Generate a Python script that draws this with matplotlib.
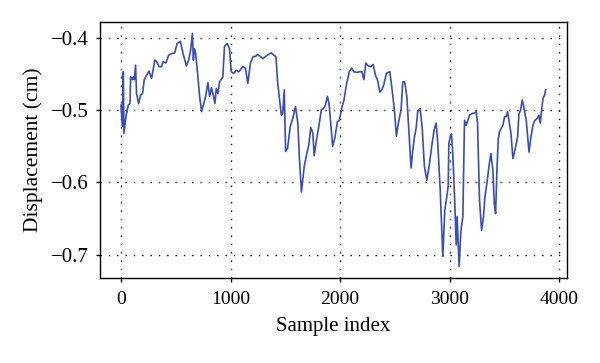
import matplotlib
matplotlib.use("Agg")
import matplotlib.pyplot as plt

sample_index = [0, 12, 21, 27, 45, 67, 82, 88, 106, 112, 121, 133, 142, 161, 179, 197, 212, 233, 255, 279,
                309, 324, 348, 370, 385, 409, 436, 461, 491, 512, 542, 567, 597, 618, 636, 652, 661, 670, 682,
                697, 718, 736, 755, 773, 794, 809, 827, 839, 858, 870, 885, 900, 930, 945, 970, 991, 1006,
                1030, 1052, 1076, 1112, 1136, 1158, 1182, 1206, 1227, 1248, 1273, 1297, 1318, 1348, 1373,
                1394, 1415, 1430, 1448, 1464, 1476, 1491, 1503, 1521, 1545, 1570, 1594, 1615, 1630, 1648,
                1673, 1697, 1715, 1733, 1752, 1764, 1782, 1806, 1830, 1848, 1867, 1885, 1900, 1915, 1933,
                1955, 1976, 1994, 2015, 2036, 2061, 2085, 2106, 2127, 2152, 2176, 2200, 2218, 2236, 2258,
                2282, 2303, 2324, 2342, 2364, 2382, 2400, 2424, 2455, 2476, 2497, 2515, 2533, 2558, 2573,
                2591, 2610, 2628, 2649, 2665, 2680, 2695, 2710, 2732, 2750, 2771, 2793, 2817, 2841, 2860,
                2878, 2893, 2915, 2939, 2957, 2976, 2988, 2994, 3006, 3018, 3030, 3046, 3061, 3070, 3079,
                3088, 3104, 3122, 3137, 3152, 3168, 3183, 3204, 3229, 3244, 3256, 3274, 3293, 3311, 3323,
                3341, 3360, 3378, 3396, 3409, 3421, 3433, 3445, 3457, 3473, 3488, 3503, 3518, 3530, 3543,
                3561, 3579, 3598, 3610, 3622, 3634, 3649, 3665, 3677, 3689, 3701, 3726, 3744, 3762, 3780,
                3799, 3817, 3829, 3841, 3854, 3869, 3878]
displacement = [-0.493, -0.523, -0.447, -0.532, -0.509, -0.493, -0.491, -0.454, -0.458, -0.454, -0.458, -0.438,
                -0.477, -0.491, -0.479, -0.477, -0.458, -0.452, -0.446, -0.456, -0.431, -0.433, -0.440,
                -0.440, -0.433, -0.435, -0.424, -0.422, -0.421, -0.408, -0.405, -0.422, -0.439, -0.431,
                -0.417, -0.394, -0.431, -0.415, -0.422, -0.445, -0.481, -0.502, -0.491, -0.481, -0.462,
                -0.481, -0.469, -0.477, -0.491, -0.470, -0.477, -0.461, -0.454, -0.412, -0.408, -0.415,
                -0.447, -0.449, -0.445, -0.447, -0.440, -0.442, -0.463, -0.435, -0.426, -0.426, -0.423,
                -0.426, -0.429, -0.426, -0.423, -0.421, -0.424, -0.426, -0.461, -0.486, -0.507, -0.505,
                -0.472, -0.557, -0.553, -0.523, -0.511, -0.495, -0.518, -0.569, -0.613, -0.578, -0.560,
                -0.548, -0.524, -0.532, -0.563, -0.544, -0.523, -0.499, -0.498, -0.493, -0.481, -0.491,
                -0.518, -0.550, -0.537, -0.516, -0.514, -0.498, -0.486, -0.463, -0.447, -0.442, -0.447,
                -0.448, -0.447, -0.447, -0.458, -0.435, -0.439, -0.440, -0.437, -0.452, -0.458, -0.475,
                -0.472, -0.465, -0.449, -0.447, -0.472, -0.500, -0.536, -0.518, -0.499, -0.461, -0.461,
                -0.481, -0.527, -0.580, -0.555, -0.537, -0.525, -0.502, -0.498, -0.523, -0.578, -0.597,
                -0.574, -0.546, -0.527, -0.518, -0.546, -0.610, -0.702, -0.638, -0.619, -0.605, -0.546,
                -0.537, -0.533, -0.560, -0.619, -0.686, -0.647, -0.684, -0.716, -0.667, -0.647, -0.514,
                -0.521, -0.514, -0.507, -0.505, -0.504, -0.502, -0.518, -0.624, -0.666, -0.647, -0.620,
                -0.602, -0.578, -0.560, -0.583, -0.629, -0.643, -0.583, -0.541, -0.530, -0.525, -0.521,
                -0.509, -0.509, -0.502, -0.514, -0.532, -0.567, -0.555, -0.546, -0.537, -0.505, -0.500,
                -0.486, -0.495, -0.505, -0.514, -0.558, -0.537, -0.521, -0.514, -0.512, -0.507, -0.518,
                -0.500, -0.484, -0.479, -0.472]

x_ticks = [0, 1000, 2000, 3000, 4000]
y_ticks = [-0.7, -0.6, -0.5, -0.4]

plt.rcParams['font.family'] = ['Liberation Serif', 'DejaVu Serif']

fig = plt.figure(figsize=(6.0, 3.63), dpi=100)
ax = fig.add_axes([0.167, 0.234, 0.778, 0.706])
ax.plot(sample_index, displacement, color='#3a4db3', linewidth=1.2)
ax.set_xlim(-190, 4073)
ax.set_ylim(-0.732, -0.378)
ax.set_xticks(x_ticks)
ax.set_yticks(y_ticks)
ax.set_yticklabels(['\u22120.7', '\u22120.6', '\u22120.5', '\u22120.4'])
ax.grid(True, color='black', linestyle=(0, (1, 5)), linewidth=1.0)
ax.tick_params(direction='out', length=3, width=1, colors='black')
ax.tick_params(axis='x', labelsize=14, pad=6)
ax.tick_params(axis='y', labelsize=15, pad=5)
for s in ax.spines.values():
    s.set_linewidth(1.0)
ax.set_xlabel('Sample index', fontsize=15, labelpad=7)
ax.set_ylabel('Displacement (cm)', fontsize=15.5, labelpad=6)
fig.savefig('out.png', dpi=100)
